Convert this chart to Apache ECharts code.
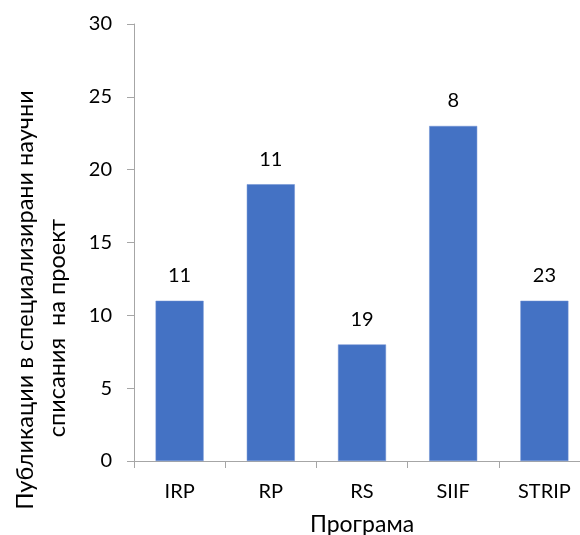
<!DOCTYPE html>
<html>
<head>
<meta charset="utf-8">
<script src="https://cdn.jsdelivr.net/npm/echarts@6/dist/echarts.min.js"></script>
<style>html,body{margin:0;padding:0;background:#fff}#c{width:580px;height:535px}</style>
</head>
<body>
<div id="c"></div>
<script>
var categories = ["IRP", "RP", "RS", "SIIF", "STRIP"];
var values = [11, 19, 8, 23, 11];
var barLabels = ["11", "11", "19", "8", "23"];
var yTitleLines = ["Публикации в специализирани научни", "списания  на проект"];
var xTitle = "Програма";

var FONT = "Lato";
var chart = echarts.init(document.getElementById('c'), null, {renderer: 'canvas'});
chart.setOption({
  animation: false,
  textStyle: {fontFamily: FONT},
  grid: {left: 134, top: 24, width: 456, height: 437, containLabel: false, outerBoundsMode: 'none'},
  xAxis: {
    type: 'category',
    data: categories,
    boundaryGap: true,
    axisLine: {lineStyle: {color: '#A6A6A6', width: 1}},
    axisTick: {show: true, length: 7, alignWithLabel: false, lineStyle: {color: '#A6A6A6'}},
    axisLabel: {color: '#000', fontSize: 20, fontFamily: FONT, margin: 21},
    name: xTitle,
    nameLocation: 'middle',
    nameGap: 52,
    nameTextStyle: {color: '#000', fontSize: 23, fontFamily: FONT}
  },
  yAxis: {
    type: 'value',
    min: 0, max: 30, interval: 5,
    axisLine: {show: true, lineStyle: {color: '#A6A6A6', width: 1}},
    axisTick: {show: true, length: 7, inside: false, lineStyle: {color: '#A6A6A6'}},
    splitLine: {show: false},
    axisLabel: {color: '#000', fontSize: 20, fontFamily: FONT, margin: 22}
  },
  series: [{
    type: 'bar',
    data: values,
    barWidth: 48,
    itemStyle: {color: '#4472C4', borderColor: '#6C8FD2', borderWidth: 0.5},
    label: {
      show: true,
      position: 'top',
      distance: 15,
      color: '#000',
      fontSize: 20,
      fontFamily: FONT,
      formatter: function (p) { return barLabels[p.dataIndex]; }
    }
  }],
  graphic: [
    {type: 'text', x: 25, y: 300, rotation: Math.PI / 2,
     style: {text: yTitleLines[0], fontSize: 23.5, fontFamily: FONT, fill: '#000', textAlign: 'center', textVerticalAlign: 'middle'}},
    {type: 'text', x: 57, y: 328, rotation: Math.PI / 2,
     style: {text: yTitleLines[1], fontSize: 23.5, fontFamily: FONT, fill: '#000', textAlign: 'center', textVerticalAlign: 'middle'}}
  ]
});
</script>
</body>
</html>
